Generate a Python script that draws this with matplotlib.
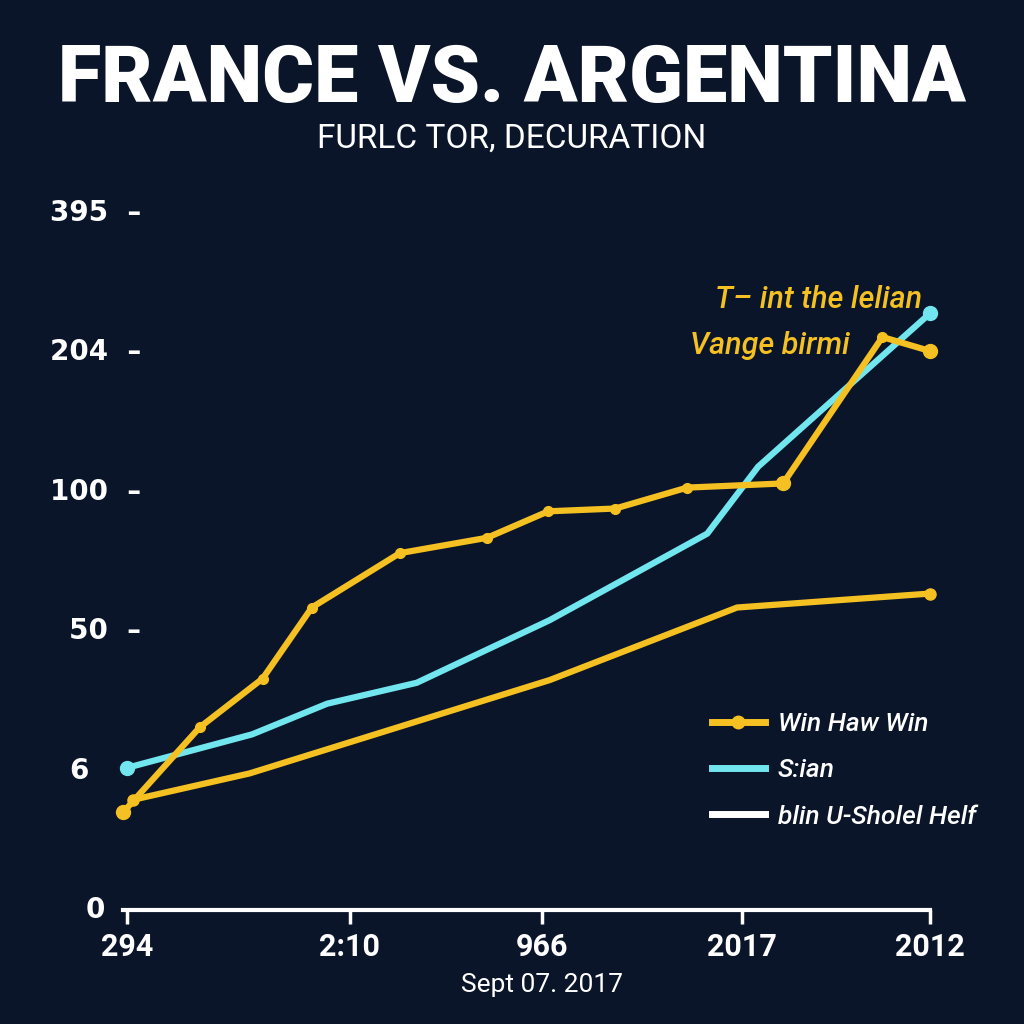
import matplotlib
matplotlib.use("Agg")
import matplotlib.pyplot as plt
from matplotlib.lines import Line2D

# colours
bg = "#0b1529"
yellow = "#f4c022"
cyan = "#72e6ee"

# y axis: evenly spaced labelled levels
y_levels = [0, 1, 2, 3, 4, 5]
y_labels = ["0", "6", "50", "100", "204", "395"]

# x axis ticks (position on 0-100 scale) and labels
x_ticks = [0.5, 28.1, 51.9, 76.7, 100]
x_labels = ["294", "2:10", "966", "2017", "2012"]

# upper yellow series
win_x = [0, 9.5, 17.3, 23.4, 34.3, 45.1, 52.7, 61.0, 69.9, 81.8, 94.1, 100]
win_y = [0.70, 1.31, 1.66, 2.17, 2.56, 2.67, 2.86, 2.88, 3.03, 3.06, 4.11, 4.01]

# cyan series
sian_x = [0.5, 16.0, 25.3, 36.4, 52.9, 72.4, 78.7, 100]
sian_y = [1.02, 1.26, 1.48, 1.63, 2.08, 2.70, 3.18, 4.28]

# lower yellow series
low_x = [1.2, 15.7, 52.9, 76.1, 100]
low_y = [0.79, 0.98, 1.65, 2.17, 2.27]

rob = ["Roboto", "DejaVu Sans"]

fig = plt.figure(figsize=(10.24, 10.24), dpi=100, facecolor=bg)
ax = fig.add_axes([123 / 1024, 1 - 910 / 1024, (930 - 123) / 1024, (910 - 213) / 1024])
ax.set_facecolor(bg)
ax.set_xlim(0, 100)
ax.set_ylim(0, 5)

ax.plot(low_x, low_y, color=yellow, lw=4.5, solid_capstyle="round", zorder=3)
ax.plot([low_x[0], low_x[-1]], [low_y[0], low_y[-1]], "o", color=yellow, ms=8, zorder=4, clip_on=False)
ax.plot(sian_x, sian_y, color=cyan, lw=4.5, solid_capstyle="round", zorder=3)
ax.plot([sian_x[0], sian_x[-1]], [sian_y[0], sian_y[-1]], "o", color=cyan, ms=10, zorder=4, clip_on=False)
ax.plot(win_x, win_y, color=yellow, lw=4.5, marker="o", ms=7, solid_capstyle="round", zorder=5, clip_on=False)
ax.plot([win_x[0], win_x[-3], win_x[-1]], [win_y[0], win_y[-3], win_y[-1]], "o", color=yellow, ms=10, zorder=5, clip_on=False)

# axes styling
for s in ["top", "right", "left"]:
    ax.spines[s].set_visible(False)
ax.spines["bottom"].set_color("white")
ax.spines["bottom"].set_linewidth(3)
ax.set_xticks(x_ticks)
ax.set_xticklabels(x_labels, fontfamily=rob, fontweight="bold", fontsize=22, color="white")
ax.tick_params(axis="x", colors="white", length=10, width=2.5, pad=6, labelcolor="white")
ax.set_yticks(y_levels)
ax.set_yticklabels([])
ax.tick_params(axis="y", length=0)

# y labels with dash marks
ytr = ax.get_yaxis_transform()
for lv, lab in zip(y_levels, y_labels):
    if lv >= 2:
        ax.text(0.022, lv, lab + "  \u2013", transform=ytr, ha="right", va="center",
                fontsize=20, fontweight="bold", color="white")
    elif lv == 1:
        ax.text(-0.043, lv, lab, transform=ytr, ha="right", va="center",
                fontsize=20, fontweight="bold", color="white")
    else:
        ax.text(-0.022, lv, lab, transform=ytr, ha="right", va="center",
                fontsize=20, fontweight="bold", color="white")

# x sub label
fig.text(542 / 1024, 1 - 985 / 1024, "Sept 07. 2017", ha="center", va="center",
         fontsize=19, color="white", fontfamily=rob)

# title and subtitle
fig.text(0.5, 1 - 80 / 1024, "FRANCE VS. ARGENTINA", ha="center", va="center",
         fontsize=57, fontweight="heavy", color="white", fontfamily=rob)
fig.text(0.5, 1 - 139 / 1024, "FURLC TOR, DECURATION", ha="center", va="center",
         fontsize=24, color="white", fontfamily=rob)

# annotation
fig.text(922 / 1024, 1 - 300 / 1024, "T\u2013 int the lelian", ha="right", va="center",
         fontsize=22, style="italic", fontweight="medium", color=yellow, fontfamily=rob)
fig.text(690 / 1024, 1 - 345 / 1024, "Vange birmi", ha="left", va="center",
         fontsize=22, style="italic", fontweight="medium", color=yellow, fontfamily=rob)

# legend
handles = [
    Line2D([0], [0], color=yellow, lw=5, marker="o", ms=9, markevery=[0]),
    Line2D([0], [0], color=cyan, lw=5),
    Line2D([0], [0], color="white", lw=5),
]
labels = ["Win Haw Win", "S:ian", "blin U-Sholel Helf"]
leg = fig.legend(handles, labels, loc="upper left", bbox_to_anchor=(688 / 1024, 1 - 688 / 1024),
                 frameon=False, handlelength=2.0, labelspacing=0.85, handletextpad=0.5,
                 prop={"family": rob, "style": "italic", "weight": "medium", "size": 19})
for t in leg.get_texts():
    t.set_color("white")

fig.savefig("out.png", dpi=100, facecolor=bg)
